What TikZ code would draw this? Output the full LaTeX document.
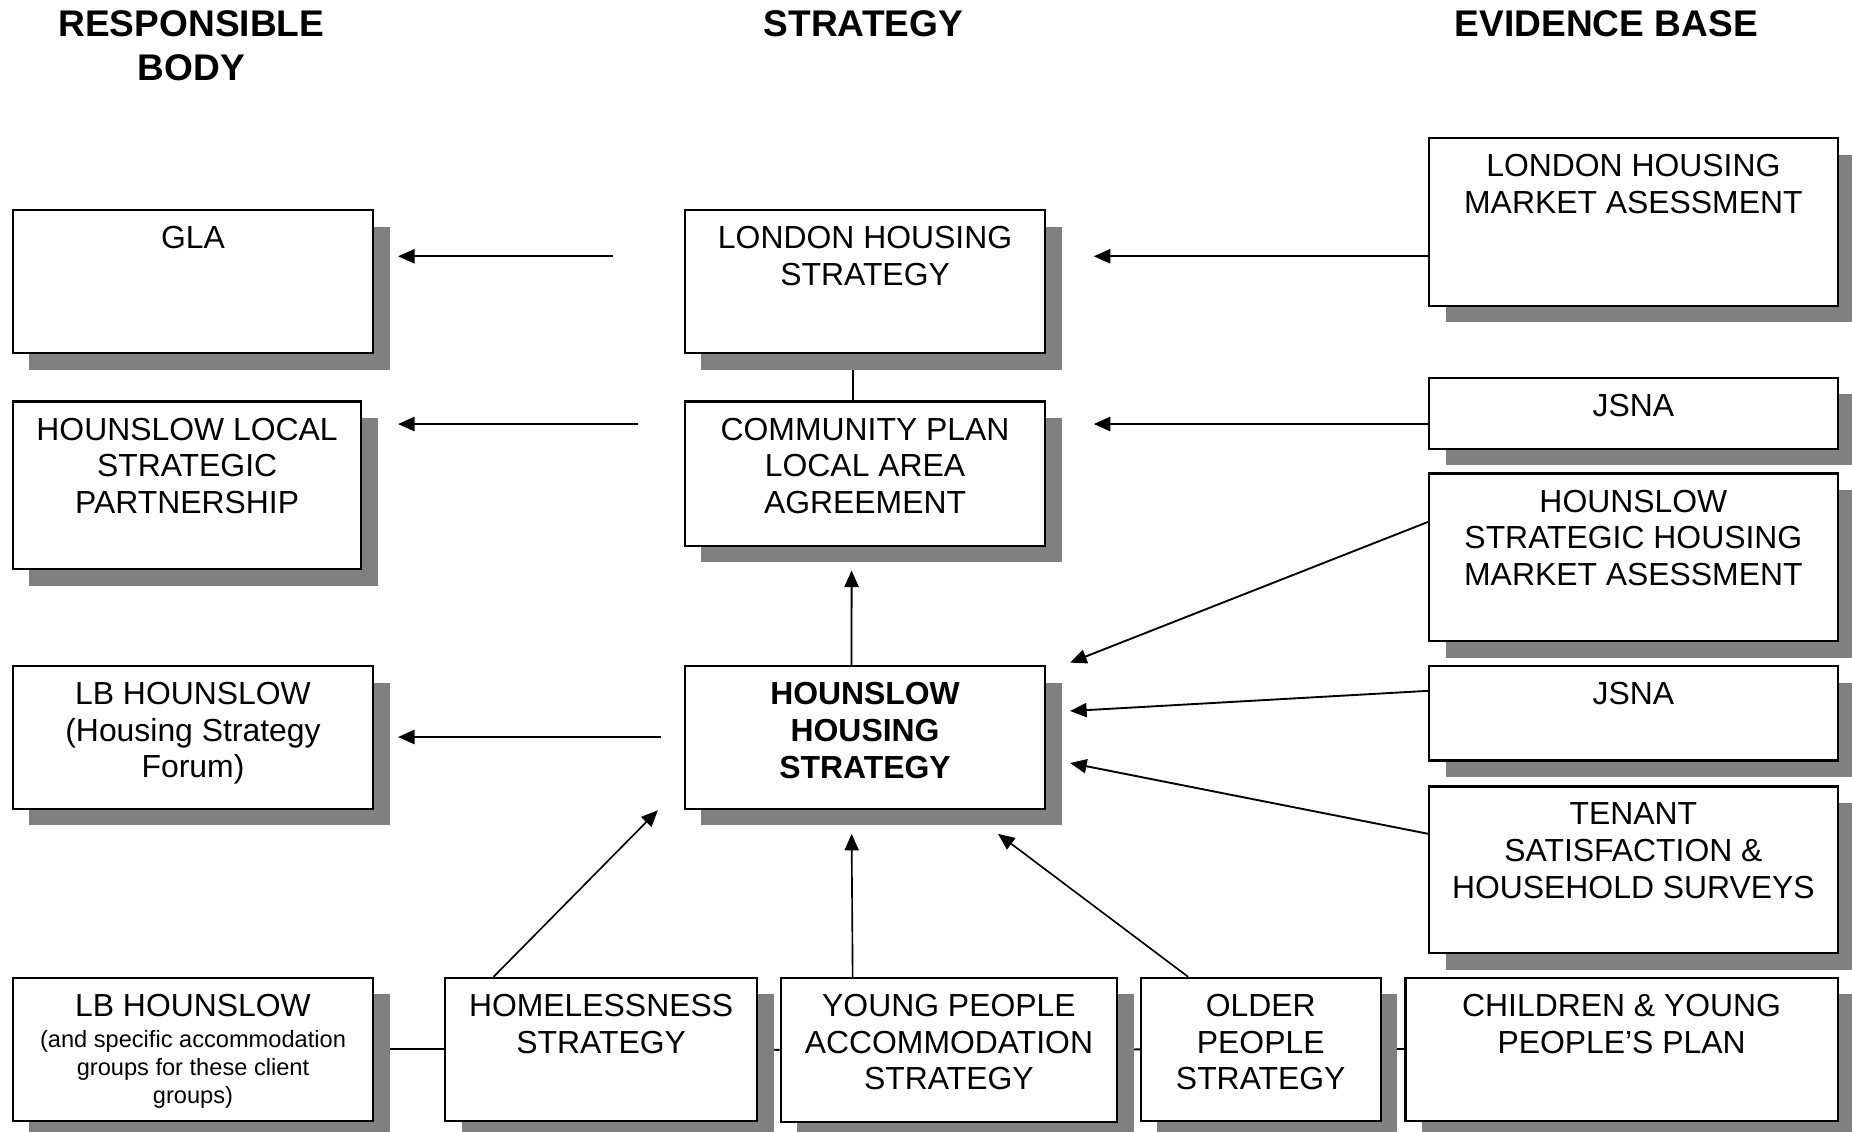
\documentclass[tikz,border=0pt]{standalone}
\usepackage{fontspec}
\setmainfont{Liberation Sans}
\usetikzlibrary{arrows.meta,shadows,backgrounds}
\definecolor{shadowgray}{HTML}{808080}
\tikzset{
  box/.style={draw, line width=0.9pt, fill=white, inner sep=0pt, anchor=north west,
    general shadow={fill=shadowgray, shadow xshift=7pt, shadow yshift=-7pt}},
  txt/.style={anchor=north, align=center, inner sep=0pt, font=\fontsize{13.5}{15.5}\selectfont},
  smalltxt/.style={anchor=north, align=center, inner sep=0pt, font=\fontsize{10}{11.75}\selectfont},
  head/.style={anchor=north, align=center, inner sep=0pt, font=\bfseries\fontsize{15.7}{18.5}\selectfont},
  arr/.style={-{Triangle[length=7pt,width=6pt]}, line width=0.85pt},
  link/.style={line width=0.8pt},
}
\newcommand\mkbox[5]{\node[box, minimum width=#4*0.5pt, minimum height=#5*0.5pt] (#1) at (#2,#3) {};}
\begin{document}
\begin{tikzpicture}[x=0.5pt,y=-0.5pt]
\useasboundingbox (0,0) rectangle (1568,958);
% headers
\node[head] (h1) at (162,8.8) {RESPONSIBLE\\BODY};
\node[head] (h2) at (731,8.8) {STRATEGY};
\node[head] (h3) at (1360,8.8) {EVIDENCE BASE};
% left column
\mkbox{gla}{10}{177}{305}{121}
\mkbox{lsp}{10}{339}{295}{142}
\mkbox{lbf}{10}{563}{305}{121}
\mkbox{lbc}{10}{827}{305}{121}
% centre column
\mkbox{lhs}{579}{177}{305}{121}
\mkbox{cp}{579}{339}{305}{122}
\mkbox{hhs}{579}{563}{305}{121}
% right column
\mkbox{lhma}{1209}{116}{346}{142}
\mkbox{jsnaa}{1209}{319}{346}{60}
\mkbox{hshma}{1209}{400}{346}{142}
\mkbox{jsnab}{1209}{563}{346}{80}
\mkbox{ten}{1209}{665}{346}{141}
% bottom row
\mkbox{home}{376}{827}{264}{121}
\mkbox{young}{660}{827}{285}{122}
\mkbox{older}{965}{827}{203}{121}
\mkbox{child}{1189}{827}{366}{121}
% texts
\node[txt] (tgla) at ([yshift=-7.2pt]gla.north) {GLA};
\node[txt] (tlsp) at ([yshift=-7.2pt]lsp.north) {HOUNSLOW LOCAL\\STRATEGIC\\PARTNERSHIP};
\node[txt] (tlbf) at ([yshift=-7.2pt]lbf.north) {LB HOUNSLOW\\(Housing Strategy\\Forum)};
\node[txt] (tlbc) at ([yshift=-7.2pt]lbc.north) {LB HOUNSLOW};
\node[smalltxt] (tlbcs) at ([yshift=-22.5pt]lbc.north) {(and specific accommodation\\groups for these client\\groups)};
\node[txt] (tlhs) at ([yshift=-7.2pt]lhs.north) {LONDON HOUSING\\STRATEGY};
\node[txt] (tcp) at ([yshift=-7.2pt]cp.north) {COMMUNITY PLAN\\LOCAL AREA\\AGREEMENT};
\node[txt,font=\bfseries\fontsize{13.5}{15.7}\selectfont] (thhs) at ([yshift=-7.2pt]hhs.north) {HOUNSLOW\\HOUSING\\STRATEGY};
\node[txt] (tlhma) at ([yshift=-7.2pt]lhma.north) {LONDON HOUSING\\MARKET ASESSMENT};
\node[txt] (tjsnaa) at ([yshift=-7.2pt]jsnaa.north) {JSNA};
\node[txt] (thshma) at ([yshift=-7.2pt]hshma.north) {HOUNSLOW\\STRATEGIC HOUSING\\MARKET ASESSMENT};
\node[txt] (tjsnab) at ([yshift=-7.2pt]jsnab.north) {JSNA};
\node[txt] (tten) at ([yshift=-7.2pt]ten.north) {TENANT\\SATISFACTION \&\\HOUSEHOLD SURVEYS};
\node[txt] (thome) at ([yshift=-7.2pt]home.north) {HOMELESSNESS\\STRATEGY};
\node[txt] (tyoung) at ([yshift=-7.2pt]young.north) {YOUNG PEOPLE\\ACCOMMODATION\\STRATEGY};
\node[txt] (tolder) at ([yshift=-7.2pt]older.north) {OLDER\\PEOPLE\\STRATEGY};
\node[txt] (tchild) at ([yshift=-7.2pt]child.north) {CHILDREN \& YOUNG\\PEOPLE’S PLAN};
% free-end coordinates
\coordinate (a1s) at (519,217); \coordinate (a1e) at (337,217);
\coordinate (a2s) at (540,359); \coordinate (a2e) at (337,359);
\coordinate (a3s) at (560,624); \coordinate (a3e) at (337,624);
\coordinate (a4e) at (926,217);
\coordinate (a5e) at (926,359);
\coordinate (a6e) at (906,561);
\coordinate (a7e) at (906,602);
\coordinate (a8e) at (906,646);
\coordinate (a9e) at (721,483);
\coordinate (a10e) at (557,686);
\coordinate (a11e) at (721,706);
\coordinate (a12e) at (845,706);
% connectors behind boxes
\begin{scope}[on background layer]
\draw[link] ([xshift=-5.25pt]lhs.south) -- ([xshift=-5.25pt]cp.north);
\draw[link] (lbc.east) -- (home.west);
\draw[link] (home.east) -- (young.west);
\draw[link] (young.east) -- (older.west);
\draw[link] (older.east) -- (child.west);
\end{scope}
% arrows
\draw[arr] (a1s) -- (a1e);
\draw[arr] (a2s) -- (a2e);
\draw[arr] (a3s) -- (a3e);
\draw[arr] (lhma.west |- a4e) -- (a4e);
\draw[arr] (jsnaa.west |- a5e) -- (a5e);
\draw[arr,line width=0.8pt] ([yshift=15pt]hshma.west) -- (a6e);
\draw[arr,line width=0.8pt] ([yshift=9.5pt]jsnab.west) -- (a7e);
\draw[arr,line width=0.8pt] ([yshift=15.25pt]ten.west) -- (a8e);
\draw[arr,line width=0.8pt] ([xshift=-5.75pt]hhs.north) -- (a9e);
\draw[arr,line width=0.7pt] ([xshift=-45.5pt]home.north) -- (a10e);
\draw[arr,line width=0.7pt] ([xshift=-40.75pt]young.north) -- (a11e);
\draw[arr,line width=0.7pt] ([xshift=-30.75pt]older.north) -- (a12e);
\end{tikzpicture}
\end{document}
